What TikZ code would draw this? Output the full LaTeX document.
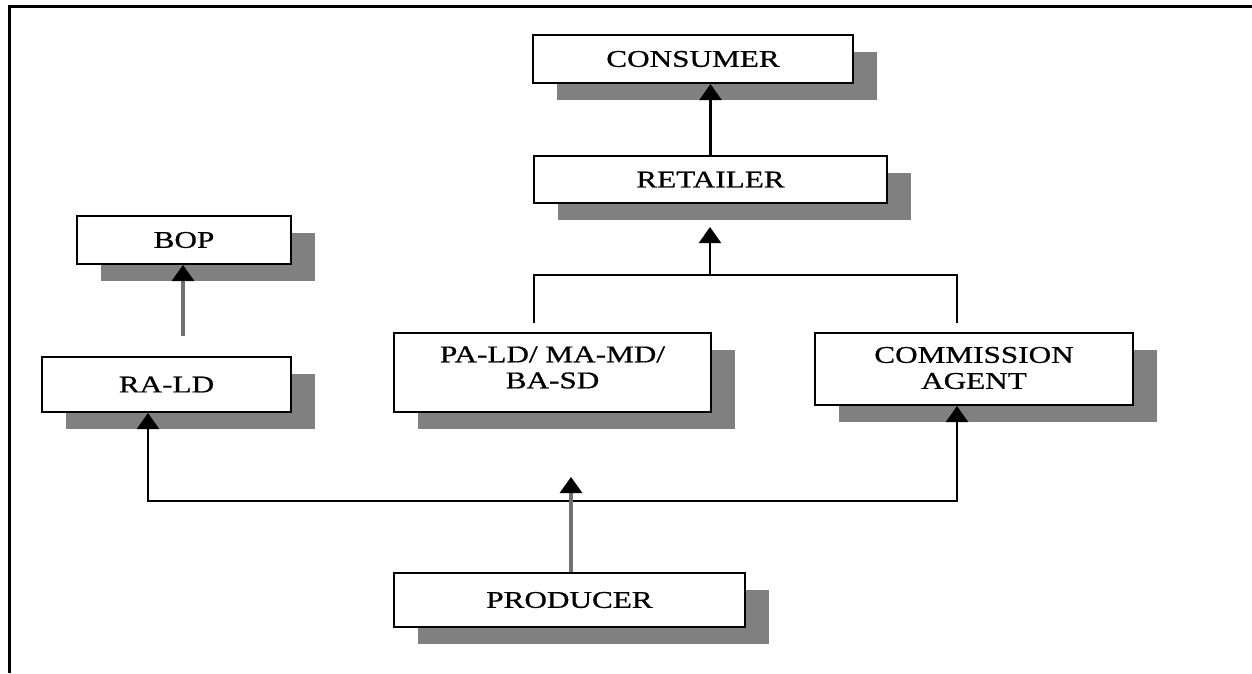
\documentclass[tikz,border=0pt]{standalone}
\usepackage{fontspec}
\setmainfont{Liberation Serif}
\newfontfamily\boxfont[FakeStretch=1.3,FakeBold=0.7]{Liberation Serif}
\usetikzlibrary{arrows.meta,shadows}
\definecolor{shadowgray}{RGB}{128,128,128}
\definecolor{linegray}{RGB}{112,112,112}
\begin{document}
\begin{tikzpicture}[x=1pt,y=-1pt,
  box/.style={draw=black, line width=2pt, fill=white, inner sep=0pt,
    align=center, font=\boxfont\fontsize{24}{26}\selectfont,
    drop shadow={shadow xshift=24pt, shadow yshift=-17pt,
      fill=shadowgray, opacity=1}},
  boxtext/.style={inner sep=0pt, align=center,
    font=\boxfont\fontsize{24}{26}\selectfont},
  arr/.style={draw=black, line width=2.2pt,
    -{Triangle[width=22pt,length=16pt]}},
  grayarr/.style={draw=linegray, line width=3.2pt,
    -{Triangle[width=22pt,length=16pt,color=black]}},
  link/.style={draw=black, line width=2.2pt}]
\useasboundingbox (0,0) rectangle (1252,673);

% page frame
\draw[line width=3pt] (9.5,673) -- (9.5,6) -- (1252,6);

% channel boxes
\node[box, minimum width=320pt, minimum height=48pt] (con)  at (693,59)     {CONSUMER};
\node[box, minimum width=353pt, minimum height=47pt] (ret)  at (710.5,179.5) {RETAILER};
\node[box, minimum width=214pt, minimum height=48pt] (bop)  at (184,240)    {BOP};
\node[box, minimum width=249pt, minimum height=55pt] (rald) at (166.5,384.5) {RA-LD};
\node[box, minimum width=317pt, minimum height=79pt] (pal)  at (552.5,372.5) {};
\node[box, minimum width=318pt, minimum height=72pt] (com)  at (974,369)    {};
\node[box, minimum width=351pt, minimum height=54pt] (prod) at (569.5,600)  {PRODUCER};

% two-line labels sit a little above the box centre
\node[boxtext] (paltext) at ([yshift=5pt]pal.center) {PA-LD/ MA-MD/\\BA-SD};
\node[boxtext] (comtext) at ([yshift=1pt]com.center) {COMMISSION\\AGENT};

% free ends of the connectors
\coordinate (bopfoot) at (183,336);
\coordinate (forkL)   at (534,323);
\coordinate (forkR)   at (957,323);
\coordinate (forkT)   at (710,275);
\coordinate (forkTip) at (710,227);
\coordinate (lowJ)    at (571,501);
\coordinate (prodTip) at (571,477);

% retailer to consumer
\draw[arr] (ret.north) -- (ret.north |- con.south);
% agents to retailer
\draw[link] (forkL) |- (forkT) -| (forkR);
\draw[arr] (forkT) -- (forkTip);
% RA-LD to BOP
\draw[grayarr] (bopfoot) -- (bopfoot |- bop.south);
% producer branches
\draw[arr] (lowJ) -| ([xshift=-18.5pt]rald.south);
\draw[arr] (lowJ) -| ([xshift=-17pt]com.south);
\draw[grayarr] ([xshift=1.5pt]prod.north) -- (prodTip);
\end{tikzpicture}
\end{document}
